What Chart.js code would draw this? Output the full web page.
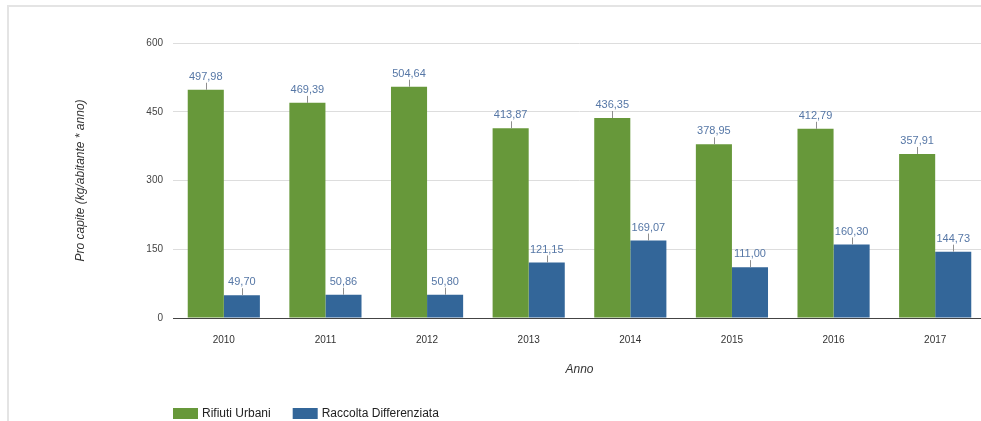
<!DOCTYPE html>
<html>
<head>
<meta charset="utf-8">
<script src="https://cdn.jsdelivr.net/npm/chart.js@4.4.1/dist/chart.umd.min.js"></script>
<style>
  html, body { margin: 0; padding: 0; background: #fff; }
  #wrap { position: relative; width: 981px; height: 421px; overflow: hidden; }
  #frame { position: absolute; left: 7px; top: 5px; width: 1000px; height: 500px;
           border-top: 2px solid #e4e4e4; border-left: 2px solid #e4e4e4; }
  #c { position: absolute; left: 0; top: 0; }
</style>
</head>
<body>
<div id="wrap">
  <div id="frame"></div>
  <canvas id="c" width="986" height="421"></canvas>
</div>
<script>
  // values
  const anni = ["2010", "2011", "2012", "2013", "2014", "2015", "2016", "2017"];
  const rifiutiUrbani = [497.98, 469.39, 504.64, 413.87, 436.35, 378.95, 412.79, 357.91];
  const raccoltaDifferenziata = [49.70, 50.86, 50.80, 121.15, 169.07, 111.00, 160.30, 144.73];
  const seriesNames = ["Rifiuti Urbani", "Raccolta Differenziata"];
  const seriesColors = ["#67983a", "#336699"];

  const FONT = "'Liberation Sans', Arial, sans-serif";
  const fmt = v => v.toFixed(2).replace(".", ",");

  // value labels with a short leader line above every bar
  const valueLabels = {
    id: "valueLabels",
    afterDatasetsDraw(chart) {
      const ctx = chart.ctx;
      ctx.save();
      ctx.font = "11px " + FONT;
      ctx.textAlign = "center";
      ctx.textBaseline = "middle";
      chart.data.datasets.forEach((ds, i) => {
        chart.getDatasetMeta(i).data.forEach((bar, j) => {
          ctx.strokeStyle = "#8f8f8f";
          ctx.lineWidth = 1;
          ctx.beginPath();
          ctx.moveTo(Math.round(bar.x) + 0.5, bar.y);
          ctx.lineTo(Math.round(bar.x) + 0.5, bar.y - 7);
          ctx.stroke();
          ctx.fillStyle = "#5677a6";
          ctx.fillText(fmt(ds.data[j]), bar.x, bar.y - 13);
        });
      });
      ctx.restore();
    }
  };

  // legend at the bottom left, under the plot
  const bottomLegend = {
    id: "bottomLegend",
    afterDraw(chart) {
      const ctx = chart.ctx;
      ctx.save();
      ctx.font = "12px " + FONT;
      ctx.textBaseline = "middle";
      let x = 173;
      const y = 413.5;
      chart.data.datasets.forEach(ds => {
        ctx.fillStyle = ds.backgroundColor;
        ctx.fillRect(x, y - 5.5, 25, 11);
        ctx.fillStyle = "#222";
        ctx.fillText(ds.label, x + 29, y);
        x += 29 + ctx.measureText(ds.label).width + 22;
      });
      ctx.restore();
    }
  };

  new Chart(document.getElementById("c"), {
    type: "bar",
    data: {
      labels: anni,
      datasets: [
        { label: seriesNames[0], data: rifiutiUrbani, backgroundColor: seriesColors[0] },
        { label: seriesNames[1], data: raccoltaDifferenziata, backgroundColor: seriesColors[1] },
      ],
    },
    options: {
      responsive: false,
      animation: false,
      devicePixelRatio: 1,
      layout: { padding: { left: 70, right: 0, top: 43, bottom: 44 } },
      datasets: { bar: { categoryPercentage: 0.71, barPercentage: 1 } },
      plugins: { legend: { display: false }, tooltip: { enabled: false } },
      scales: {
        x: {
          grid: { display: false },
          border: { display: true, color: "#444", width: 1 },
          ticks: { color: "#333", font: { family: FONT, size: 10 }, padding: 8 },
          title: { display: true, text: "Anno", color: "#333", font: { family: FONT, size: 12, style: "italic" }, padding: { top: 0, bottom: 0 } },
          afterFit(scale) { scale.height = 59; },
        },
        y: {
          min: 0, max: 600,
          grid: { color: "#dddddd", drawTicks: false },
          border: { display: false },
          ticks: { stepSize: 150, color: "#444", font: { family: FONT, size: 10 }, padding: 10 },
          title: { display: true, text: "Pro capite (kg/abitante * anno)", color: "#333", font: { family: FONT, size: 12, style: "italic" }, padding: { top: 3, bottom: 0 } },
          afterFit(scale) { scale.width = 103; },
        },
      },
    },
    plugins: [valueLabels, bottomLegend],
  });
</script>
</body>
</html>
